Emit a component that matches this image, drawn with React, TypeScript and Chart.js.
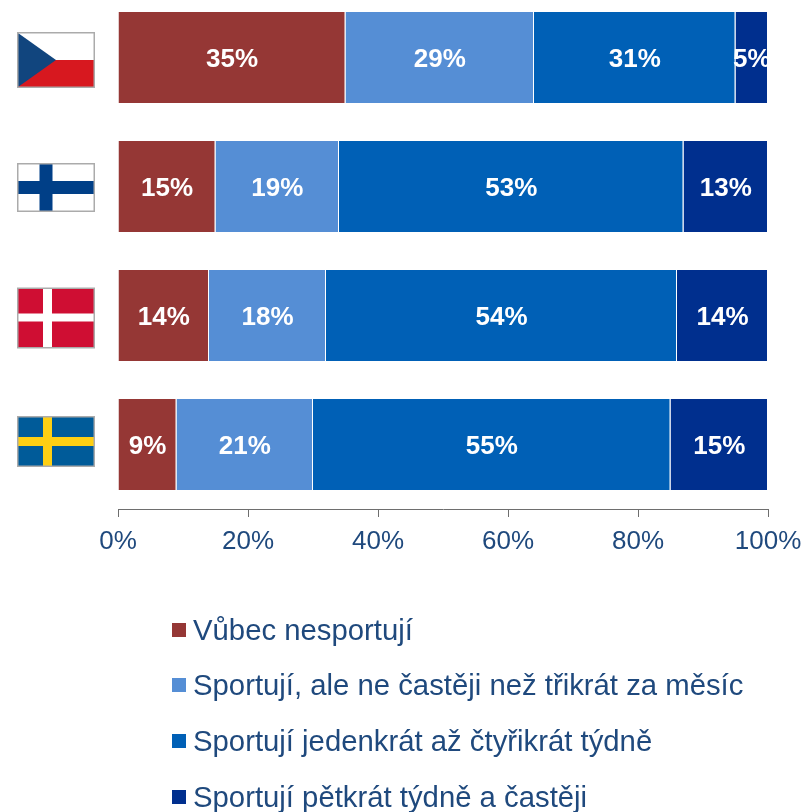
import React, { useEffect, useRef } from "react";
import { Chart, registerables } from "chart.js";

Chart.register(...registerables);

const countries = ["Česko", "Finsko", "Dánsko", "Švédsko"];
const neverSport = [35, 15, 14, 9];
const upToThreeMonthly = [29, 19, 18, 21];
const oneToFourWeekly = [31, 53, 54, 55];
const fiveWeeklyPlus = [5, 13, 14, 15];
const seriesNames = [
  "Vůbec nesportují",
  "Sportují, ale ne častěji než třikrát za měsíc",
  "Sportují jedenkrát až čtyřikrát týdně",
  "Sportují pětkrát týdně a častěji",
];
const seriesColors = ["#953735", "#558ED5", "#0060B6", "#002F8E"];

const FONT = '"Liberation Sans", Arial, sans-serif';
const TEXT = "#1F497D";
const TOP_SHIFT = 20; // canvas is lifted so the category bands can start above the page
const flagBoxes = [
  { dy: 2.5, h: 54 },
  { dy: 1, h: 47 },
  { dy: 2.5, h: 59 },
  { dy: -3, h: 49 },
];
const legendCentres = [630, 685, 741, 797];

type Ctx = CanvasRenderingContext2D;

function drawFlag(ctx: Ctx, i: number, x: number, y: number, w: number, h: number) {
  const rect = (c: string, a: number, b: number, cw: number, ch: number) => {
    ctx.fillStyle = c;
    ctx.fillRect(a, b, cw, ch);
  };
  if (i === 0) {
    rect("#FFFFFF", x, y, w, h / 2);
    rect("#D7181F", x, y + h / 2, w, h / 2);
    ctx.fillStyle = "#11457E";
    ctx.beginPath();
    ctx.moveTo(x, y);
    ctx.lineTo(x + w / 2, y + h / 2);
    ctx.lineTo(x, y + h);
    ctx.closePath();
    ctx.fill();
  } else if (i === 1) {
    rect("#FFFFFF", x, y, w, h);
    rect("#003F87", x + 21.5, y, 13, h);
    rect("#003F87", x, y + 17, w, 13);
  } else if (i === 2) {
    rect("#CF0E33", x, y, w, h);
    rect("#FFFFFF", x + 25, y, 9, h);
    rect("#FFFFFF", x, y + 25, w, 8);
  } else {
    rect("#005B99", x, y, w, h);
    rect("#FECF13", x + 25, y, 9, h);
    rect("#FECF13", x, y + 20, w, 9);
  }
  ctx.strokeStyle = "#ABABAB";
  ctx.lineWidth = 1.5;
  ctx.strokeRect(x - 0.25, y - 0.25, w + 0.5, h + 0.5);
}

const decorations = {
  id: "decorations",
  afterDatasetsDraw(chart: any) {
    const ctx: Ctx = chart.ctx;
    const { chartArea } = chart;
    // value labels
    ctx.save();
    ctx.beginPath();
    ctx.rect(chartArea.left, 0, chartArea.right - chartArea.left + 1, chart.height);
    ctx.clip();
    ctx.font = `bold 26px ${FONT}`;
    ctx.fillStyle = "#FFFFFF";
    ctx.textAlign = "center";
    ctx.textBaseline = "middle";
    chart.data.datasets.forEach((ds: any, d: number) => {
      chart.getDatasetMeta(d).data.forEach((bar: any, i: number) => {
        const c = bar.getCenterPoint();
        ctx.fillText(`${ds.data[i]}%`, c.x, c.y + 2.5);
      });
    });
    ctx.restore();
    // flags
    const yScale = chart.scales.y;
    flagBoxes.forEach((f, i) => {
      const cy = yScale.getPixelForTick(i) + f.dy;
      drawFlag(ctx, i, 18, cy - f.h / 2, 76, f.h);
    });
    // legend
    ctx.save();
    ctx.font = `29.3px ${FONT}`;
    ctx.textAlign = "left";
    ctx.textBaseline = "middle";
    chart.data.datasets.forEach((ds: any, d: number) => {
      const y = legendCentres[d] + TOP_SHIFT;
      ctx.fillStyle = ds.backgroundColor;
      ctx.fillRect(172, y - 7, 14, 14);
      ctx.fillStyle = TEXT;
      ctx.fillText(ds.label, 193, y + 1.5);
    });
    ctx.restore();
  },
};

export default function App() {
  const ref = useRef<HTMLCanvasElement>(null);
  useEffect(() => {
    const values = [neverSport, upToThreeMonthly, oneToFourWeekly, fiveWeeklyPlus];
    const chart = new Chart(ref.current!, {
      type: "bar",
      data: {
        labels: countries,
        datasets: values.map((data, i) => ({
          label: seriesNames[i],
          data,
          backgroundColor: seriesColors[i],
          borderColor: "rgba(255,255,255,0.75)",
          borderWidth: 1,
          categoryPercentage: 1,
          barPercentage: 0.72,
        })),
      },
      options: {
        indexAxis: "y",
        responsive: false,
        animation: false,
        layout: { autoPadding: false, padding: { left: 118, right: 36, top: 13, bottom: 0 } },
        plugins: { legend: { display: false }, tooltip: { enabled: false } },
        scales: {
          x: {
            stacked: true,
            min: 0,
            max: 100,
            grid: {
              display: true,
              drawOnChartArea: false,
              drawTicks: true,
              tickLength: 8,
              color: "#6E6E6E",
              lineWidth: 1,
            },
            border: { display: true, color: "#6E6E6E", width: 1 },
            ticks: {
              stepSize: 20,
              maxRotation: 0,
              padding: 9,
              color: TEXT,
              font: { family: FONT, size: 26 },
              callback: (v: any) => `${v}%`,
            },
            afterFit(scale: any) {
              scale.height = 303;
              scale.paddingRight = 0;
              scale.paddingLeft = 0;
            },
          },
          y: {
            stacked: true,
            grid: { display: false },
            border: { display: false },
            ticks: { display: false },
            afterFit(scale: any) {
              scale.width = 0;
            },
          },
        },
      },
      plugins: [decorations],
    } as any);
    return () => chart.destroy();
  }, []);
  return (
    <canvas
      ref={ref}
      width={804}
      height={832}
      style={{ position: "absolute", left: 0, top: -TOP_SHIFT, display: "block" }}
    />
  );
}
